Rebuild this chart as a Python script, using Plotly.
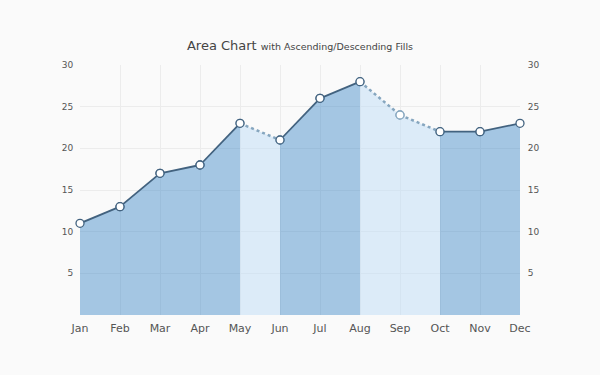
import plotly.graph_objects as go

months = ["Jan", "Feb", "Mar", "Apr", "May", "Jun", "Jul", "Aug", "Sep", "Oct", "Nov", "Dec"]
values = [11, 13, 17, 18, 23, 21, 26, 28, 24, 22, 22, 23]
y_ticks = [5, 10, 15, 20, 25, 30]

UP_LINE = "#42627f"
DOWN_LINE = "#86a6bf"
UP_FILL = "rgba(60,135,200,0.45)"
DOWN_FILL = "rgba(190,220,245,0.5)"
FONT = "DejaVu Sans, Verdana, sans-serif"

fig = go.Figure()

segments = [(i, values[i + 1] >= values[i]) for i in range(len(values) - 1)]

# descending first, ascending later (so their markers sit on top)
for asc_pass in (False, True):
    for i, asc in segments:
        if asc != asc_pass:
            continue
        fig.add_trace(go.Scatter(
            x=[months[i], months[i + 1]],
            y=[values[i], values[i + 1]],
            mode="lines+markers",
            fill="tozeroy",
            fillcolor=UP_FILL if asc else DOWN_FILL,
            line=dict(color=UP_LINE if asc else DOWN_LINE, width=1.8 if asc else 2.5,
                      dash="solid" if asc else "dot"),
            marker=dict(size=8, color="white",
                        line=dict(color=UP_LINE if asc else DOWN_LINE, width=1.3)),
            cliponaxis=False,
            showlegend=False,
            hoverinfo="x+y",
        ))

# invisible trace to show right axis
fig.add_trace(go.Scatter(x=months, y=values, yaxis="y2", mode="lines",
                         line=dict(width=0), opacity=0, showlegend=False, hoverinfo="skip"))

axis_font = dict(family=FONT, size=9, color="#555")

fig.update_layout(
    width=600, height=375,
    paper_bgcolor="#fafafa", plot_bgcolor="#fafafa",
    margin=dict(l=80, r=80, t=65, b=60),
    title=dict(
        text="Area Chart <span style='font-size:9.5px'>with Ascending/Descending Fills</span>",
        x=0.5, xanchor="center", y=0.88, yanchor="middle",
        font=dict(family=FONT, size=13, color="#444"),
    ),
    xaxis=dict(
        type="category", categoryorder="array", categoryarray=months,
        range=[0, len(months) - 1], showgrid=True, gridcolor="#ececec",
        zeroline=False, showline=False, ticks="outside", ticklen=3,
        tickcolor="rgba(0,0,0,0)",
        tickfont=dict(family=FONT, size=11, color="#555"),
    ),
    yaxis=dict(
        range=[0, 30], tickvals=y_ticks, showgrid=True, gridcolor="#ececec",
        zeroline=False, showline=False, ticks="outside", ticklen=4,
        tickcolor="rgba(0,0,0,0)", tickfont=axis_font,
    ),
    yaxis2=dict(
        range=[0, 30], tickvals=y_ticks, overlaying="y", side="right",
        showgrid=False, zeroline=False, showline=False, ticks="outside", ticklen=5,
        tickcolor="rgba(0,0,0,0)", tickfont=axis_font,
    ),
)

fig.write_html("out.html", config={"displayModeBar": False},
               post_script="document.body.style.margin='0';")
